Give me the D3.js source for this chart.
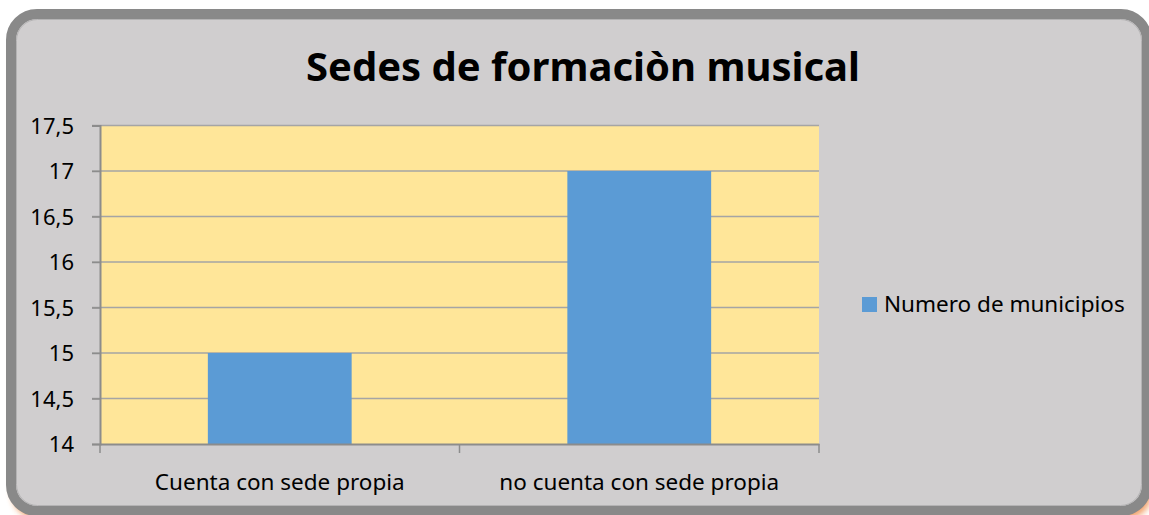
<!DOCTYPE html>
<html>
<head>
<meta charset="utf-8">
<script src="https://cdn.jsdelivr.net/npm/d3@7"></script>
<style>
  body { margin: 0; background: #fff; }
  text { font-family: "Noto Sans", "Open Sans", sans-serif; fill: #000; }
</style>
</head>
<body>
<div id="chart"></div>
<script>
var categories = ["Cuenta con sede propia", "no cuenta con sede propia"];
var values = [15, 17];
var seriesName = "Numero de municipios";
var yTicks = [14, 14.5, 15, 15.5, 16, 16.5, 17, 17.5];
var title = "Sedes de formaciòn musical";

var width = 1149, height = 515;
var plot = {left: 100, top: 125.5, right: 819, bottom: 444};

var svg = d3.select("#chart").append("svg")
    .attr("width", width)
    .attr("height", height);

var defs = svg.append("defs");
var blur = defs.append("filter").attr("id", "glow")
    .attr("x", "-5%").attr("y", "-5%").attr("width", "110%").attr("height", "110%");
blur.append("feGaussianBlur").attr("stdDeviation", 3);

// orange shadow behind the frame
svg.append("rect")
    .attr("x", 12).attr("y", 24)
    .attr("width", 1140).attr("height", 496)
    .attr("rx", 28)
    .attr("fill", "#ED7D31")
    .attr("opacity", 0.7)
    .attr("filter", "url(#glow)");

// frame
svg.append("rect")
    .attr("x", 11).attr("y", 14)
    .attr("width", 1136).attr("height", 497)
    .attr("rx", 26)
    .attr("fill", "#D0CECF")
    .attr("stroke", "#898989")
    .attr("stroke-width", 10);
svg.append("rect")
    .attr("x", 16.5).attr("y", 19.5)
    .attr("width", 1125).attr("height", 486)
    .attr("rx", 21)
    .attr("fill", "none")
    .attr("stroke", "#B4B3B4")
    .attr("stroke-width", 1);

var x = d3.scaleBand()
    .domain(categories)
    .range([plot.left, plot.right])
    .paddingInner(0)
    .paddingOuter(0);

var y = d3.scaleLinear()
    .domain([14, 17.5])
    .range([plot.bottom, plot.top]);

// plot area
svg.append("rect")
    .attr("x", plot.left).attr("y", plot.top)
    .attr("width", plot.right - plot.left)
    .attr("height", plot.bottom - plot.top)
    .attr("fill", "#FFE699");

// gridlines
svg.append("g").selectAll("line")
    .data(yTicks.slice(1))
    .join("line")
    .attr("x1", plot.left - 8).attr("x2", plot.right)
    .attr("y1", function(d) { return y(d); })
    .attr("y2", function(d) { return y(d); })
    .attr("stroke", "#A5A5A5")
    .attr("stroke-width", 1.5);

// bars
var barW = x.bandwidth() * 0.4;
svg.append("g").selectAll("rect")
    .data(values)
    .join("rect")
    .attr("x", function(d, i) { return x(categories[i]) + (x.bandwidth() - barW) / 2; })
    .attr("y", function(d) { return y(d); })
    .attr("width", barW)
    .attr("height", function(d) { return y(14) - y(d); })
    .attr("fill", "#5B9BD5");

// y axis
var yAxis = d3.axisLeft(y)
    .tickValues(yTicks)
    .tickSize(8)
    .tickPadding(18)
    .tickFormat(function(d) { return String(d).replace(".", ","); });
var gy = svg.append("g")
    .attr("transform", "translate(" + plot.left + ",0)")
    .call(yAxis);
gy.select(".domain").attr("stroke", "#8C8C8C").attr("stroke-width", 2);
gy.selectAll(".tick line").attr("stroke", "#8C8C8C").attr("stroke-width", 1.5);
gy.selectAll(".tick text")
    .style("font-size", "22px")
    .attr("dy", "0.35em")
    .attr("fill", "#000");

// x axis
var xAxis = d3.axisBottom(x).tickSize(0).tickPadding(30);
var gx = svg.append("g")
    .attr("transform", "translate(0," + plot.bottom + ")")
    .call(xAxis);
gx.select(".domain").attr("stroke", "#8C8C8C").attr("stroke-width", 2);
gx.selectAll(".tick text").style("font-size", "22.5px").attr("fill", "#000");
gx.selectAll(".bound")
    .data([plot.left, x(categories[1]), plot.right])
    .join("line")
    .attr("class", "bound")
    .attr("x1", function(d) { return d; }).attr("x2", function(d) { return d; })
    .attr("y1", 0).attr("y2", 9)
    .attr("stroke", "#8C8C8C")
    .attr("stroke-width", 1.5);

// title
svg.append("text")
    .attr("x", 583).attr("y", 81)
    .attr("text-anchor", "middle")
    .style("font-size", "40px")
    .style("font-weight", "bold")
    .text(title);

// legend
var lg = svg.append("g").attr("transform", "translate(862,297)");
lg.append("rect").attr("width", 15).attr("height", 15).attr("fill", "#5B9BD5");
lg.append("text")
    .attr("x", 22).attr("y", 7.5)
    .attr("dy", "0.35em")
    .style("font-size", "22.5px")
    .text(seriesName);
</script>
</body>
</html>
